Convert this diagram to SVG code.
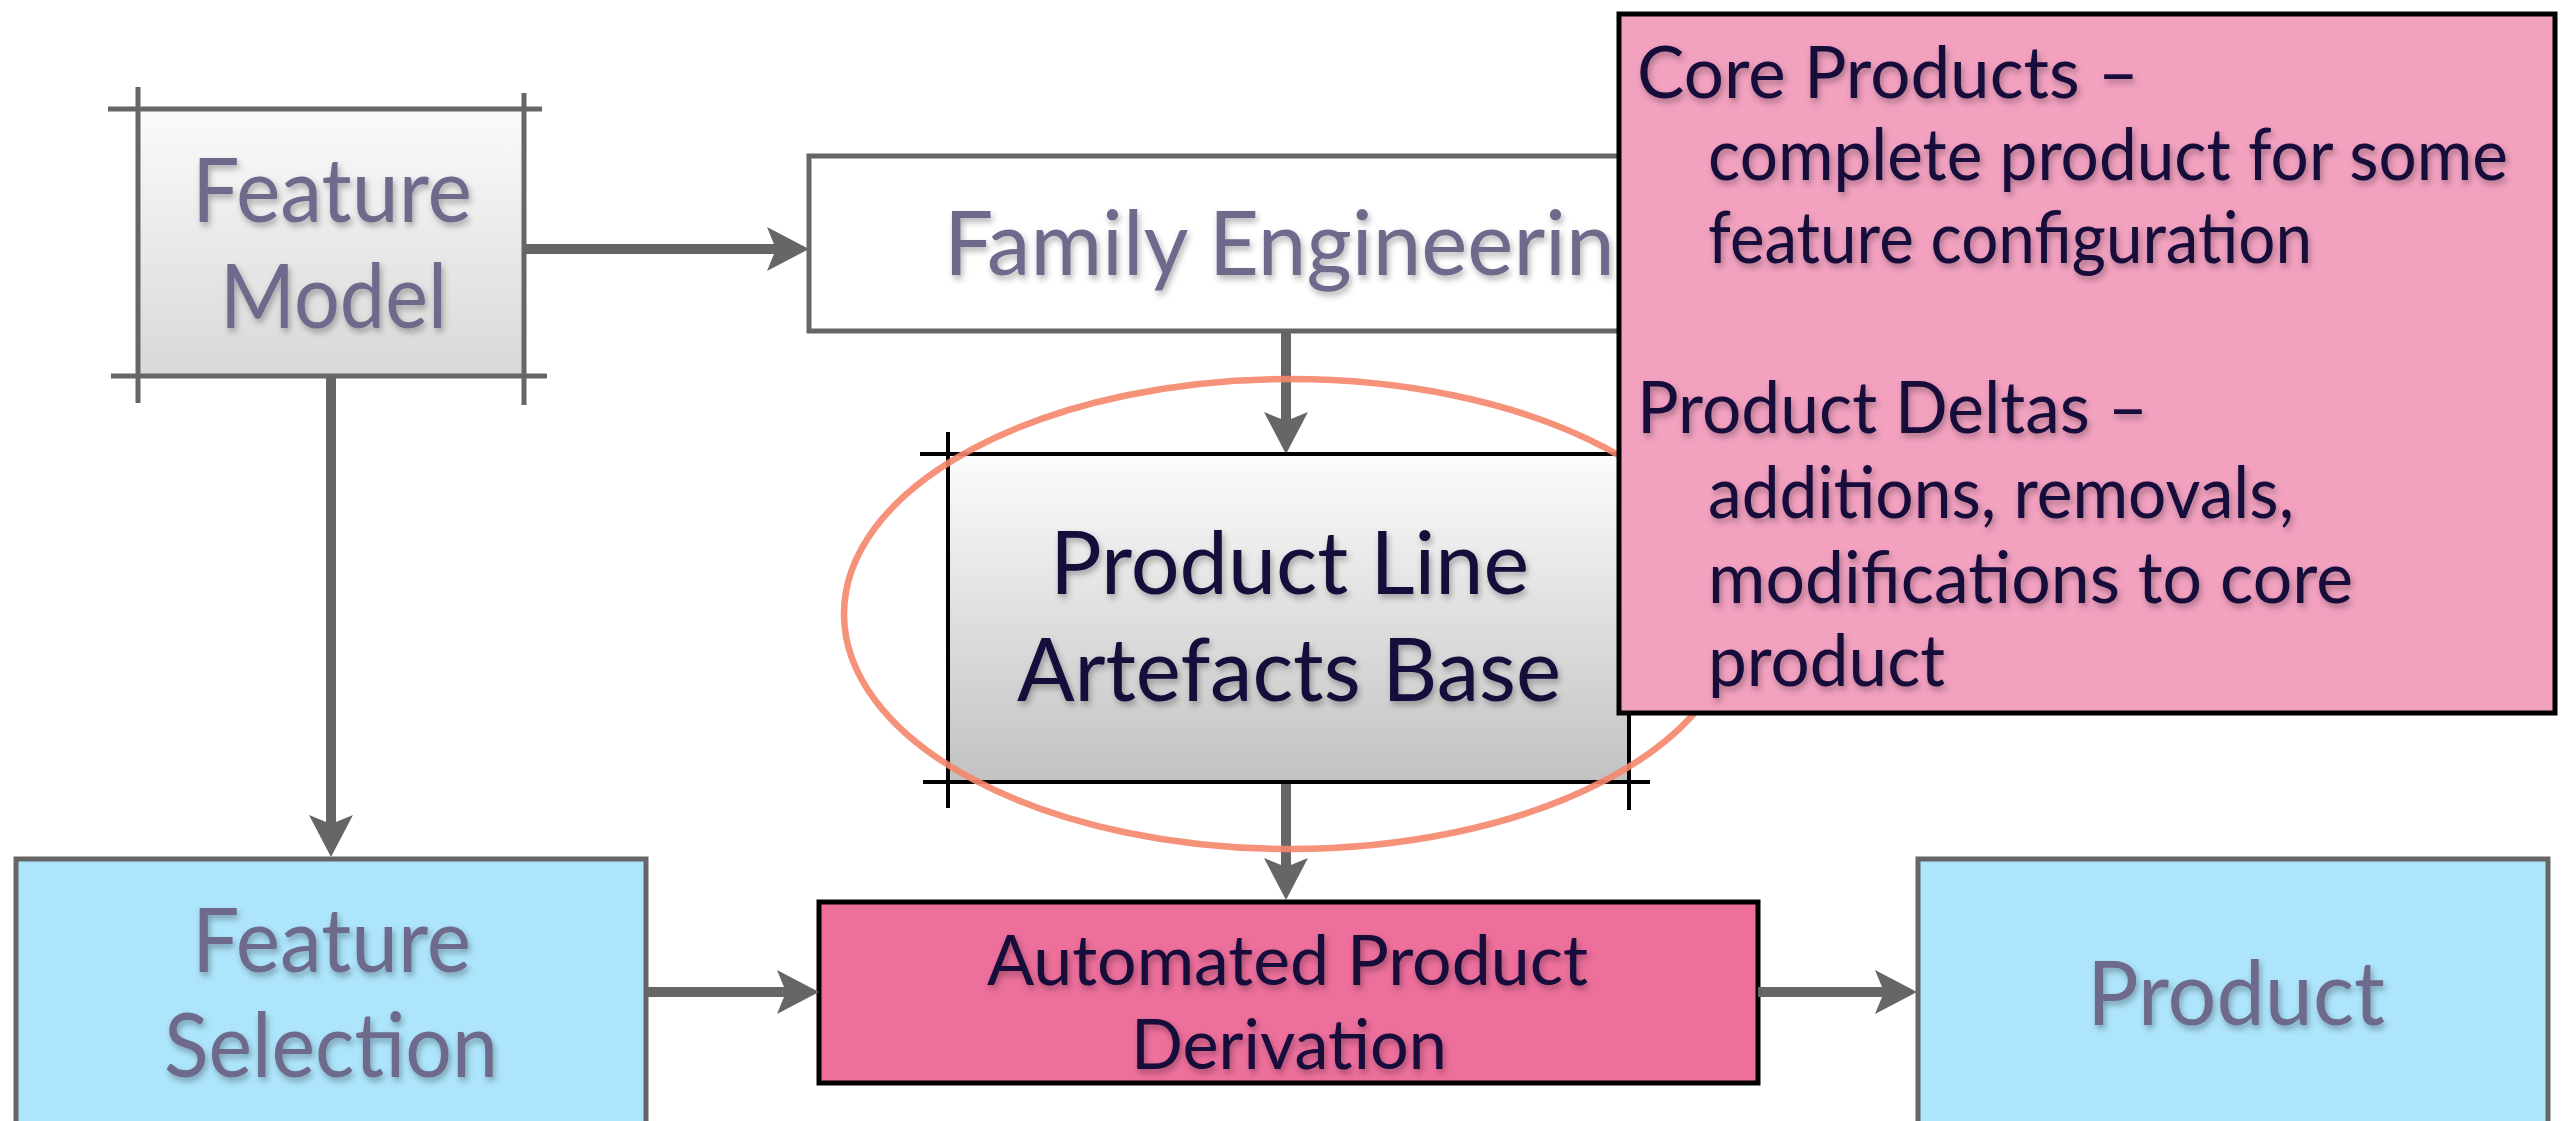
<svg xmlns="http://www.w3.org/2000/svg" width="2569" height="1121" viewBox="0 0 2569 1121">
  <style>
    .lbl { font-family: "Lato", "Open Sans", "Liberation Sans", sans-serif; filter: url(#txtShadow); }
    .muted { fill: #6e6a8c; font-size: 89px; }
    .dark { fill: #14093a; }
    .big { font-size: 88px; }
    .mid { font-size: 70px; }
    .note { font-size: 72px; }
    .grayBox { stroke: #666666; stroke-width: 5; }
    .tick { stroke: #666666; stroke-width: 5; }
    .tickDark { stroke: #000000; stroke-width: 4; }
    .conn { stroke: #666666; stroke-width: 10; fill: none; marker-end: url(#arrow); }
  </style>
  <defs>
    <linearGradient id="gFM" x1="0" y1="0" x2="0" y2="1">
      <stop offset="0" stop-color="#fbfbfb"/>
      <stop offset="1" stop-color="#d8d8d8"/>
    </linearGradient>
    <linearGradient id="gPLAB" x1="0" y1="0" x2="0" y2="1">
      <stop offset="0" stop-color="#fcfcfc"/>
      <stop offset="1" stop-color="#c2c2c2"/>
    </linearGradient>
    <filter id="txtShadow" x="-10%" y="-30%" width="120%" height="160%">
      <feDropShadow dx="2" dy="4" stdDeviation="3" flood-color="#000000" flood-opacity="0.3"/>
    </filter>
    <marker id="arrow" markerUnits="userSpaceOnUse" markerWidth="46" markerHeight="46" refX="12" refY="22" orient="auto">
      <path d="M0,0 L42,22 L0,44 L9,22 Z" fill="#666666"/>
    </marker>
  </defs>

  <!-- Feature Model -->
  <g id="feature-model">
    <rect x="138" y="109" width="386" height="267" fill="url(#gFM)"/>
    <line class="tick" x1="108" y1="109" x2="542" y2="109"/>
    <line class="tick" x1="111" y1="376" x2="547" y2="376"/>
    <line class="tick" x1="138" y1="87" x2="138" y2="403"/>
    <line class="tick" x1="524" y1="93" x2="524" y2="405"/>
    <text class="lbl muted" x="192" y="222" textLength="280" lengthAdjust="spacingAndGlyphs">Feature</text>
    <text class="lbl muted" x="220" y="328" textLength="227" lengthAdjust="spacingAndGlyphs">Model</text>
  </g>

  <!-- Family Engineering -->
  <g id="family-engineering">
    <rect class="grayBox" x="809" y="156" width="980" height="175" fill="#ffffff"/>
    <text class="lbl muted" x="944" y="275" font-size="88" textLength="716" lengthAdjust="spacingAndGlyphs">Family Engineering</text>
  </g>

  <!-- Feature Selection -->
  <g id="feature-selection">
    <rect class="grayBox" x="16" y="859" width="630" height="280" fill="#ade5fc"/>
    <text class="lbl muted" x="192" y="972" textLength="279" lengthAdjust="spacingAndGlyphs">Feature</text>
    <text class="lbl muted" x="164" y="1077" textLength="334" lengthAdjust="spacingAndGlyphs">Selection</text>
  </g>

  <!-- Product -->
  <g id="product">
    <rect class="grayBox" x="1918" y="859" width="630" height="280" fill="#ade5fc"/>
    <text class="lbl muted" x="2087" y="1025" textLength="298" lengthAdjust="spacingAndGlyphs">Product</text>
  </g>

  <!-- Automated Product Derivation -->
  <g id="automated-derivation">
    <rect x="819" y="902" width="939" height="181" fill="#ed6f9b" stroke="#000000" stroke-width="5"/>
    <text class="lbl dark mid" x="987" y="985" textLength="601" lengthAdjust="spacingAndGlyphs">Automated Product</text>
    <text class="lbl dark mid" x="1131" y="1069" textLength="316" lengthAdjust="spacingAndGlyphs">Derivation</text>
  </g>

  <!-- Connectors -->
  <g id="connectors">
    <line class="conn" x1="524" y1="249" x2="779" y2="249"/>
    <line class="conn" x1="331" y1="376" x2="331" y2="827"/>
    <line class="conn" x1="1286" y1="331" x2="1286" y2="424"/>
    <line class="conn" x1="1286" y1="782" x2="1286" y2="870"/>
    <line class="conn" x1="646" y1="992" x2="789" y2="992"/>
    <line class="conn" x1="1758" y1="992" x2="1887" y2="992"/>
  </g>

  <!-- Product Line Artefacts Base -->
  <g id="artefacts-base">
    <rect x="948" y="454" width="681" height="328" fill="url(#gPLAB)"/>
    <line class="tickDark" x1="920" y1="454" x2="1650" y2="454"/>
    <line class="tickDark" x1="923" y1="782" x2="1650" y2="782"/>
    <line class="tickDark" x1="948" y1="432" x2="948" y2="808"/>
    <line class="tickDark" x1="1629" y1="440" x2="1629" y2="810"/>
    <text class="lbl dark big" x="1050" y="594" textLength="479" lengthAdjust="spacingAndGlyphs">Product Line</text>
    <text class="lbl dark big" x="1017" y="701" textLength="544" lengthAdjust="spacingAndGlyphs">Artefacts Base</text>
  </g>

  <!-- Highlight ring round the artefacts base -->
  <ellipse id="highlight" cx="1290" cy="614" rx="446" ry="235" fill="none" stroke="#f5866a" stroke-width="6.5" stroke-opacity="0.9"/>

  <!-- Callout note -->
  <g id="callout">
    <rect x="1619" y="14" width="936" height="699" fill="#f2a1bf" stroke="#000000" stroke-width="5"/>
    <text class="lbl dark note" x="1637" y="98" textLength="502" lengthAdjust="spacingAndGlyphs">Core Products –</text>
    <text class="lbl dark note" x="1708" y="180" textLength="800" lengthAdjust="spacingAndGlyphs">complete product for some</text>
    <text class="lbl dark note" x="1708" y="263" textLength="604" lengthAdjust="spacingAndGlyphs">feature configuration</text>
    <text class="lbl dark note" x="1637" y="433" textLength="511" lengthAdjust="spacingAndGlyphs">Product Deltas –</text>
    <text class="lbl dark note" x="1708" y="518" textLength="586" lengthAdjust="spacingAndGlyphs">additions, removals,</text>
    <text class="lbl dark note" x="1708" y="603" textLength="645" lengthAdjust="spacingAndGlyphs">modifications to core</text>
    <text class="lbl dark note" x="1708" y="686" textLength="237" lengthAdjust="spacingAndGlyphs">product</text>
  </g>
</svg>
